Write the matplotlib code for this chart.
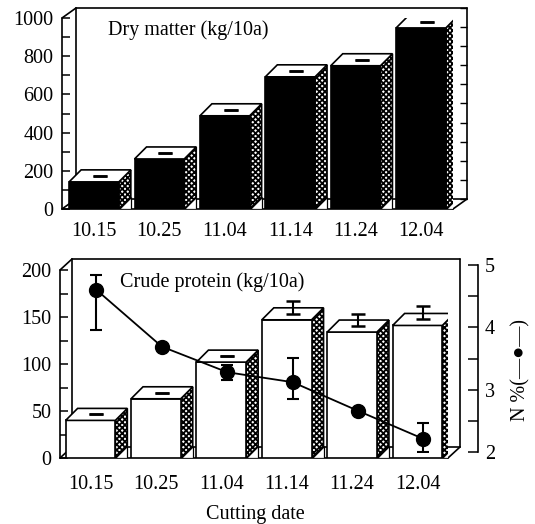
import numpy as np
import matplotlib
matplotlib.use("Agg")
import matplotlib.pyplot as plt
from matplotlib.patches import Polygon

plt.rcParams["font.family"] = ["Liberation Serif", "DejaVu Sans"]
plt.rcParams["hatch.linewidth"] = 1.3

# cutting dates
DATES = ["10.15", "10.25", "11.04", "11.14", "11.24", "12.04"]

# dry matter (kg/10a)
DRY_MATTER = [142, 262, 488, 692, 750, 948]
DM_ERR = [0, 0, 0, 0, 0, 0]

# crude protein (kg/10a)
CRUDE_PROTEIN = [40, 63, 102, 147, 134, 141]
CP_ERR = [0, 0, 0, 14, 13, 14]

# N % (right axis)
N_PCT = [4.60, 3.69, 3.28, 3.12, 2.66, 2.21]
N_ERR_LO = [0.64, 0.0, 0.12, 0.27, 0.0, 0.21]
N_ERR_HI = [0.24, 0.0, 0.12, 0.39, 0.0, 0.26]

W = 0.76
FS = 14.5
W_PX, H_PX = 535, 524


def px2data(ax, px, py):
    p0 = ax.transData.transform((0, 0))
    return ax.transData.inverted().transform((p0[0] + px, p0[1] + py))


def draw_box(ax, ytop, wall):
    xl, xr = ax.get_xlim()
    wdx, wdy = px2data(ax, *wall)
    kw = dict(color="k", lw=1.2, clip_on=False, zorder=1, solid_capstyle="round")
    segs = [
        ((xl, xl), (0, ytop)),
        ((xl, xl + wdx), (ytop, ytop + wdy)),
        ((xl, xl + wdx), (0, wdy)),
        ((xl + wdx, xl + wdx), (wdy, ytop + wdy)),
        ((xl + wdx, xr + wdx), (ytop + wdy, ytop + wdy)),
        ((xr + wdx, xr + wdx), (wdy, ytop + wdy)),
        ((xl + wdx, xr + wdx), (wdy, wdy)),
        ((xl, xr), (0, 0)),
        ((xr, xr + wdx), (0, wdy)),
    ]
    for xs, ys in segs:
        ax.plot(xs, ys, **kw)
    return xr + wdx, wdy


def draw_bars(ax, vals, errs, front, depth):
    bdx, bdy = px2data(ax, *depth)
    x = np.arange(len(vals))
    vals = np.array(vals, dtype=float)
    ax.bar(x, vals, width=W, color=front, edgecolor="k", lw=1.2, zorder=3)
    for xi, v in zip(x, vals):
        x0, x1 = xi - W / 2, xi + W / 2
        ax.add_patch(Polygon([(x1, 0), (x1 + bdx, bdy), (x1 + bdx, v + bdy), (x1, v)],
                             facecolor="white", edgecolor="k", hatch="xxxxxx",
                             lw=1.2, zorder=2))
        ax.add_patch(Polygon([(x0, v), (x1, v), (x1 + bdx, v + bdy), (x0 + bdx, v + bdy)],
                             facecolor="white", edgecolor="k", lw=1.2, zorder=3))
        ax.add_patch(Polygon([(x1, 0), (x1 + bdx, 0), (x1 + bdx, bdy)],
                             facecolor="white", edgecolor="k", lw=0.9, zorder=2))
    ax.errorbar(x + bdx / 2, vals + bdy / 2, yerr=[np.zeros(len(vals)), errs],
                fmt="none", ecolor="k", elinewidth=1.5, capsize=5, capthick=1.8, zorder=4)
    return bdx


def style_axis(ax, major, minor, pad_x):
    for s in ax.spines.values():
        s.set_visible(False)
    ax.patch.set_visible(False)
    ax.set_yticks(major)
    ax.set_yticks(minor, minor=True)
    ax.tick_params(axis="y", which="both", direction="in", length=6, width=1.1,
                   labelsize=FS, pad=6)
    ax.set_xticks(np.arange(len(DATES)))
    ax.set_xticklabels(DATES)
    ax.tick_params(axis="x", length=0, labelsize=FS, pad=pad_x)


fig = plt.figure(figsize=(W_PX / 100, H_PX / 100), dpi=100)

# ---- top panel: dry matter ----
ax1 = fig.add_axes([62 / W_PX, (H_PX - 209) / H_PX, (453 - 62) / W_PX, 191 / H_PX])
ax1.set_xlim(-0.489, -0.489 + (453 - 62) / 65.4)
ax1.set_ylim(0, 1000)
style_axis(ax1, np.arange(0, 1001, 200), np.arange(100, 1000, 200), 9)
xb, wdy = draw_box(ax1, 1000, (14, 10))
ax1.plot([xb] * 11, np.arange(0, 1001, 100) + wdy, ls="none", marker=0, ms=5,
         color="k", clip_on=False, zorder=1)
draw_bars(ax1, DRY_MATTER, DM_ERR, "black", (12, 12))
fig.text(108 / W_PX, 1 - 30 / H_PX, "Dry matter (kg/10a)", fontsize=FS, va="center")

# ---- bottom panel: crude protein + N % ----
ax2 = fig.add_axes([60 / W_PX, (H_PX - 458) / H_PX, (448 - 60) / W_PX, 188 / H_PX])
ax2.set_xlim(-0.466, -0.466 + (448 - 60) / 65.4)
ax2.set_ylim(0, 200)
style_axis(ax2, np.arange(0, 201, 50), np.arange(25, 200, 50), 12)
draw_box(ax2, 200, (12, 11))
bdx = draw_bars(ax2, CRUDE_PROTEIN, CP_ERR, "white", (12, 12))
fig.text(120 / W_PX, 1 - 282 / H_PX, "Crude protein (kg/10a)", fontsize=FS, va="center")

ax3 = fig.add_axes([60 / W_PX, (H_PX - 452) / H_PX, (448 - 60) / W_PX, 187 / H_PX])
ax3.set_xlim(ax2.get_xlim())
ax3.set_ylim(2, 5)
ax3.patch.set_visible(False)
for k, s in ax3.spines.items():
    s.set_visible(k == "right")
ax3.spines["right"].set_position(("axes", (478 - 60) / (448 - 60)))
ax3.spines["right"].set_linewidth(1.2)
ax3.set_xticks([])
ax3.yaxis.tick_right()
ax3.set_yticks([2, 3, 4, 5])
ax3.set_yticks([2.5, 3.5, 4.5], minor=True)
ax3.tick_params(axis="y", which="both", direction="in", length=7, width=1.1,
                labelsize=FS, pad=5)
ax3.errorbar(np.arange(len(N_PCT)) + bdx / 2, N_PCT, yerr=[N_ERR_LO, N_ERR_HI],
             fmt="-o", color="k", ms=10, lw=1.3, elinewidth=1.5, capsize=4,
             capthick=1.5, zorder=5)
fig.text(521 / W_PX, 1 - 370 / H_PX, "N %(\u2014\u25cf\u2014)", fontsize=FS,
         rotation=90, ha="center", va="center")

fig.text(255 / W_PX, 1 - 514 / H_PX, "Cutting date", fontsize=FS, ha="center", va="center")

fig.savefig("out.png", dpi=100)
